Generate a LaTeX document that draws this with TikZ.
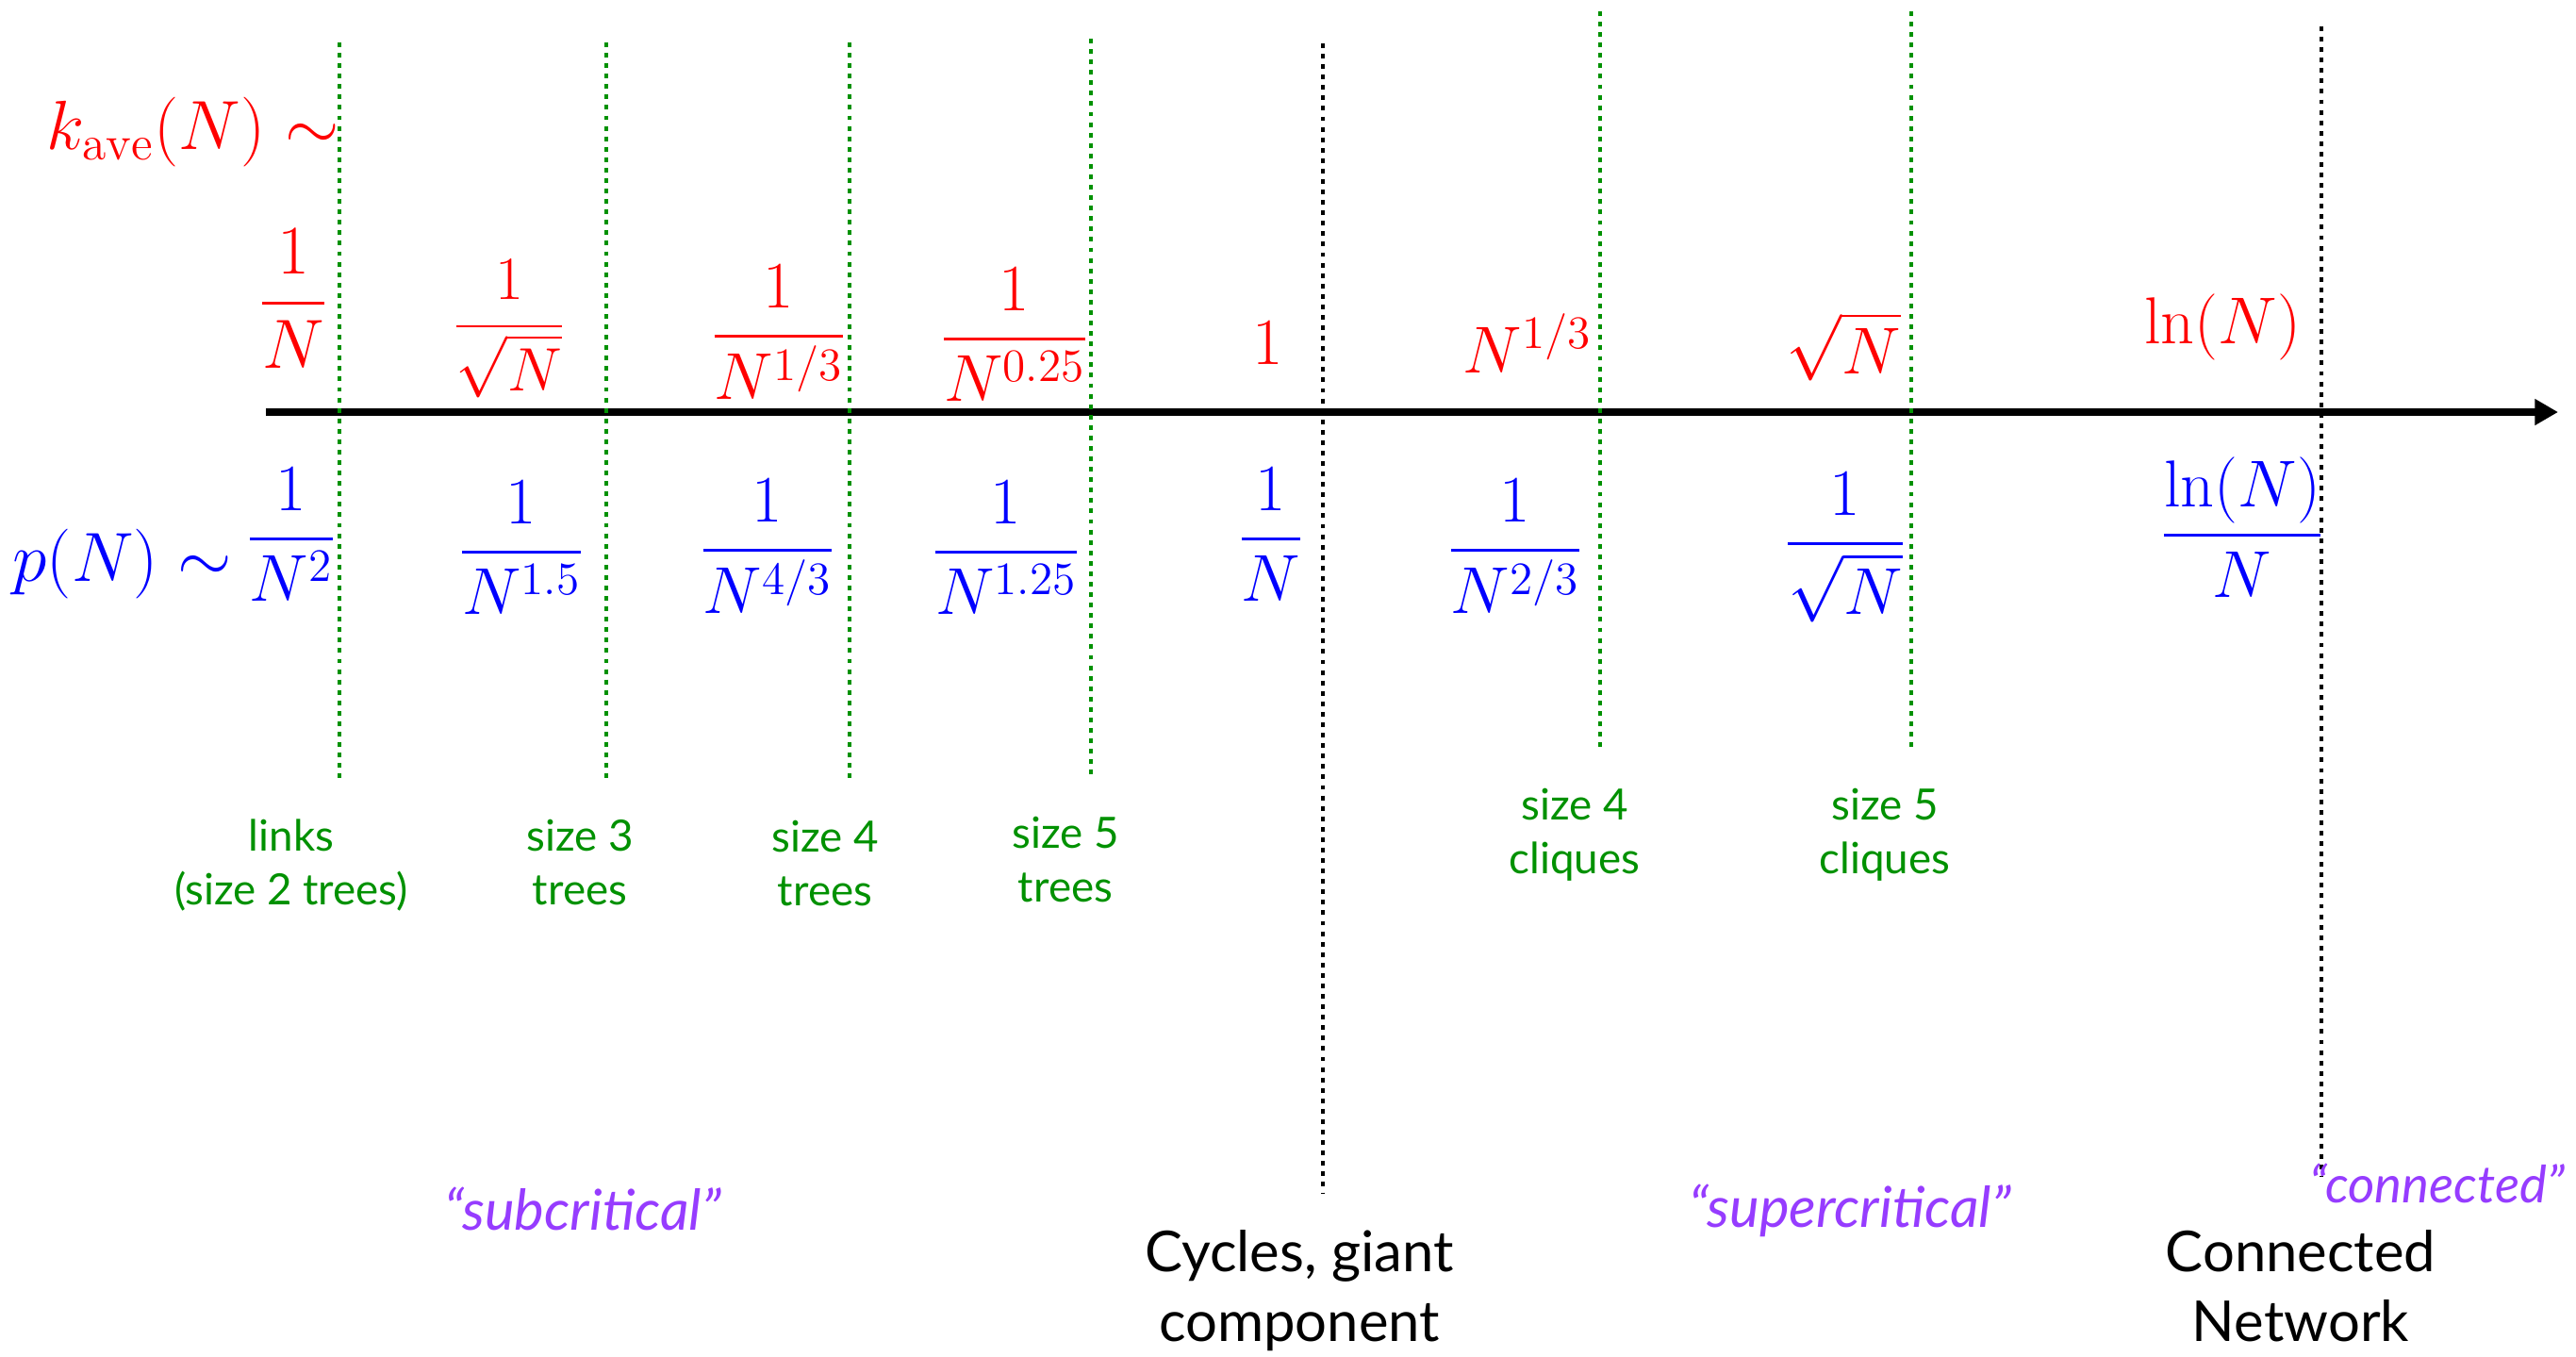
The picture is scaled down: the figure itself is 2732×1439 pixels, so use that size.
\RequirePackage{fix-cm}
\documentclass[tikz,border=0pt]{standalone}
\usepackage{amsmath}
\usepackage{fontspec}
\newfontfamily\gs{Lato}
\usetikzlibrary{arrows.meta}
\definecolor{dgreen}{RGB}{0,145,0}
\definecolor{purp}{RGB}{150,60,255}
\definecolor{mred}{RGB}{255,0,0}
\definecolor{mblue}{RGB}{0,0,255}
\begin{document}
\begin{tikzpicture}[x=0.01cm,y=-0.01cm,
  mr/.style={text=mred, font=\fontsize{20}{24}\selectfont, inner sep=0pt, anchor=base},
  mb/.style={text=mblue, font=\fontsize{20}{24}\selectfont, inner sep=0pt, anchor=base},
  gl/.style={text=dgreen, font=\gs\fontsize{13}{16.2}\selectfont, align=center, inner sep=0pt, anchor=base},
  pl/.style={text=purp, font=\gs\itshape\fontsize{17}{20}\selectfont, inner sep=0pt, anchor=base},
  bl/.style={text=black, font=\gs\fontsize{17}{21}\selectfont, align=center, inner sep=0pt, anchor=base},
  gline/.style={draw=dgreen, line width=1.4pt, dash pattern=on 1.4pt off 1.75pt},
  kline/.style={draw=black, line width=1.4pt, dash pattern=on 1.4pt off 1.75pt},
  axisline/.style={draw=black, line width=2.3pt, -{Triangle[length=7pt,width=7.5pt]}}]
\useasboundingbox (0,0) rectangle (2732,1439);
% axis
\coordinate (ax0) at (282,437);
\coordinate (ax1) at (2713,437);
\draw[axisline] (ax0) -- (ax1);
% dotted lines
\coordinate (g1t) at (360,45);   \coordinate (g1b) at (360,829);
\coordinate (g2t) at (643,45);   \coordinate (g2b) at (643,827);
\coordinate (g3t) at (901,45);   \coordinate (g3b) at (901,827);
\coordinate (g4t) at (1157,41);  \coordinate (g4b) at (1157,825);
\coordinate (g5t) at (1697,12);  \coordinate (g5b) at (1697,794);
\coordinate (g6t) at (2027,12);  \coordinate (g6b) at (2027,794);
\coordinate (k1t) at (1403,46);  \coordinate (k1b) at (1403,1266);
\coordinate (k2t) at (2462,28);  \coordinate (k2b) at (2462,1247);
\foreach \a in {g1,g2,g3,g4,g5,g6} \draw[gline] (\a t) -- (\a b);
\foreach \a in {k1,k2} \draw[kline] (\a t) -- (\a b);
% red (k_ave)
\node[mr, anchor=base west, font=\fontsize{21}{25}\selectfont] (kave) at (49,158) {$k_{\mathrm{ave}}(N)\sim$};
\node[mr, font=\fontsize{21}{25}\selectfont] (r1) at (311,340) {$\dfrac{1}{N}$};
\node[mr, font=\fontsize{18.5}{22}\selectfont] (r2) at (540,362) {$\dfrac{1}{\sqrt{N}}$};
\node[mr] (r3) at (826,374) {$\dfrac{1}{N^{1/3}}$};
\node[mr] (r4) at (1076,377) {$\dfrac{1}{N^{0.25}}$};
\node[mr] (r5) at (1345,386) {$1$};
\node[mr] (r6) at (1620,395) {$N^{1/3}$};
\node[mr] (r7) at (1955,396) {$\sqrt{N}$};
\node[mr] (r8) at (2357,364) {$\ln(N)$};
% blue (p)
\node[mb, anchor=base west, font=\fontsize{21}{25}\selectfont] (pn) at (13,616) {$p(N)\sim$};
\node[mb] (b1) at (309,589) {$\dfrac{1}{N^{2}}$};
\node[mb] (b2) at (553,603) {$\dfrac{1}{N^{1.5}}$};
\node[mb] (b3) at (814,601) {$\dfrac{1}{N^{4/3}}$};
\node[mb] (b4) at (1067,603) {$\dfrac{1}{N^{1.25}}$};
\node[mb] (b5) at (1348,589) {$\dfrac{1}{N}$};
\node[mb] (b6) at (1607,601) {$\dfrac{1}{N^{2/3}}$};
\node[mb] (b7) at (1957,594) {$\dfrac{1}{\sqrt{N}}$};
\node[mb] (b8) at (2378,585) {$\dfrac{\ln(N)}{N}$};
% green labels (anchor = baseline of last line)
\node[gl] (t1) at (309,959) {links\\(size 2 trees)};
\node[gl] (t2) at (615,959) {size 3\\trees};
\node[gl] (t3) at (875,960) {size 4\\trees};
\node[gl] (t4) at (1130,956) {size 5\\trees};
\node[gl] (c4) at (1670,926) {size 4\\cliques};
\node[gl] (c5) at (1999,926) {size 5\\cliques};
% purple
\node[pl] (sub) at (618,1304) {“subcritical”};
\node[pl] (sup) at (1962,1301) {“supercritical”};
\node[pl, anchor=base west, font=\gs\itshape\fontsize{15.5}{19}\selectfont] (con) at (2449,1275) {“connected”};
% black
\node[bl] (cyc) at (1378,1422) {Cycles, giant\\component};
\node[bl] (net) at (2440,1422) {Connected\\Network};
\end{tikzpicture}
\end{document}
